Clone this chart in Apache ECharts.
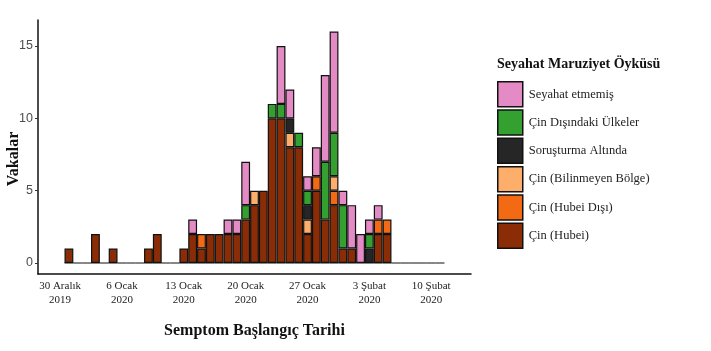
<!DOCTYPE html>
<html>
<head>
<meta charset="utf-8">
<script src="https://cdn.jsdelivr.net/npm/echarts@6/dist/echarts.min.js"></script>
<style>
  html, body { margin: 0; padding: 0; background: #fff; }
  #chart { width: 711px; height: 351px; }
</style>
</head>
<body>
<div id="chart"></div>
<script>
// one bin per day, from 28 Aralık 2019 to 14 Şubat 2020
const startDate = new Date(2019, 11, 28);
const dayCount = 49;

const monthNames = ['Ocak', 'Şubat', 'Mart', 'Nisan', 'Mayıs', 'Haziran', 'Temmuz', 'Ağustos', 'Eylül', 'Ekim', 'Kasım', 'Aralık'];
const tickDates = ['2019-12-30', '2020-01-06', '2020-01-13', '2020-01-20', '2020-01-27', '2020-02-03', '2020-02-10'];

// case counts per day (index 0 = 28 Aralık)
const hubei = [
    0, 0, 0, 1, 0, 0, 2,
    0, 1, 0, 0, 0, 1, 2,
    0, 0, 1, 2, 1, 2, 2,
    2, 2, 3, 4, 5, 10, 10,
    8, 8, 2, 5, 3, 4, 1,
    1, 0, 0, 2, 2, 0, 0,
    0, 0, 0, 0, 0, 0, 0
];
const hubeiDisi = [
    0, 0, 0, 0, 0, 0, 0,
    0, 0, 0, 0, 0, 0, 0,
    0, 0, 0, 0, 1, 0, 0,
    0, 0, 0, 0, 0, 0, 0,
    0, 0, 0, 1, 0, 1, 0,
    0, 0, 0, 1, 1, 0, 0,
    0, 0, 0, 0, 0, 0, 0
];
const bilinmeyen = [
    0, 0, 0, 0, 0, 0, 0,
    0, 0, 0, 0, 0, 0, 0,
    0, 0, 0, 0, 0, 0, 0,
    0, 0, 0, 1, 0, 0, 0,
    1, 0, 1, 0, 0, 1, 0,
    0, 0, 0, 0, 0, 0, 0,
    0, 0, 0, 0, 0, 0, 0
];
const sorusturma = [
    0, 0, 0, 0, 0, 0, 0,
    0, 0, 0, 0, 0, 0, 0,
    0, 0, 0, 0, 0, 0, 0,
    0, 0, 0, 0, 0, 0, 0,
    1, 0, 1, 0, 0, 0, 0,
    0, 0, 1, 0, 0, 0, 0,
    0, 0, 0, 0, 0, 0, 0
];
const cinDisi = [
    0, 0, 0, 0, 0, 0, 0,
    0, 0, 0, 0, 0, 0, 0,
    0, 0, 0, 0, 0, 0, 0,
    0, 0, 1, 0, 0, 1, 1,
    0, 1, 1, 0, 4, 3, 3,
    0, 0, 1, 0, 0, 0, 0,
    0, 0, 0, 0, 0, 0, 0
];
const seyahatYok = [
    0, 0, 0, 0, 0, 0, 0,
    0, 0, 0, 0, 0, 0, 0,
    0, 0, 0, 1, 0, 0, 0,
    1, 1, 3, 0, 0, 0, 4,
    2, 0, 1, 2, 6, 7, 1,
    3, 2, 1, 1, 0, 0, 0,
    0, 0, 0, 0, 0, 0, 0
];
// histogram bins that are drawn (empty ones show as a flat line)
const binFirst = 3;
const binLast = 45;

const seriesDefs = [
    {name: 'Çin (Hubei)', data: hubei, color: '#8A2D06'},
    {name: 'Çin (Hubei Dışı)', data: hubeiDisi, color: '#F26A14'},
    {name: 'Çin (Bilinmeyen Bölge)', data: bilinmeyen, color: '#FDAE6B'},
    {name: 'Soruşturma Altında', data: sorusturma, color: '#262626'},
    {name: 'Çin Dışındaki Ülkeler', data: cinDisi, color: '#34A02F'},
    {name: 'Seyahat etmemiş', data: seyahatYok, color: '#E48BC6'}
];

function fmt(d) {
    let m = d.getMonth() + 1, day = d.getDate();
    return d.getFullYear() + '-' + (m < 10 ? '0' + m : m) + '-' + (day < 10 ? '0' + day : day);
}

const categories = function () {
    let list = [];
    for (let i = 0; i < dayCount; i++) {
        let d = new Date(startDate.getFullYear(), startDate.getMonth(), startDate.getDate() + i);
        list.push(fmt(d));
    }
    return list;
}();

function isTick(index) {
    return tickDates.indexOf(categories[index]) >= 0;
}

const serif = '"Liberation Serif", "DejaVu Serif", serif';

let series = seriesDefs.map(function (s) {
    return {
        name: s.name,
        type: 'bar',
        stack: 'all',
        xAxisIndex: 0,
        yAxisIndex: 0,
        barCategoryGap: '0%',
        itemStyle: {color: s.color, borderColor: '#111', borderWidth: 1.2},
        emphasis: {disabled: true},
        data: s.data.map(function (v) { return v === 0 ? '-' : v; })
    };
});
series.unshift({
    name: 'base',
    type: 'bar',
    stack: 'all',
    xAxisIndex: 0,
    yAxisIndex: 0,
    barCategoryGap: '0%',
    silent: true,
    itemStyle: {color: '#fff', borderColor: '#111', borderWidth: 1.2},
    data: categories.map(function (c, i) { return (i >= binFirst && i <= binLast) ? 0 : '-'; })
});

let chart = echarts.init(document.getElementById('chart'));
chart.setOption({
    animation: false,
    backgroundColor: '#fff',
    title: {
        text: 'Seyahat Maruziyet Öyküsü',
        left: 497,
        top: 57,
        padding: 0,
        textStyle: {fontFamily: serif, fontSize: 14, fontWeight: 'bold', color: '#111'}
    },
    legend: {
        orient: 'vertical',
        left: 497,
        top: 81,
        padding: 0,
        itemWidth: 25,
        itemHeight: 25,
        itemGap: 1.8,
        icon: 'rect',
        itemStyle: {borderColor: '#111', borderWidth: 1.5},
        textStyle: {fontFamily: serif, fontSize: 12.5, color: '#222', padding: [0, 0, 0, 1]},
        data: ['Seyahat etmemiş', 'Çin Dışındaki Ülkeler', 'Soruşturma Altında',
            'Çin (Bilinmeyen Bölge)', 'Çin (Hubei Dışı)', 'Çin (Hubei)']
    },
    grid: [
        {left: 38, right: 240, top: 20, bottom: 88, outerBoundsMode: 'none'},
        {left: 38, right: 240, top: 20, bottom: 77, outerBoundsMode: 'none'}
    ],
    xAxis: [
        {
            type: 'category',
            gridIndex: 0,
            data: categories,
            show: false
        },
        {
            type: 'category',
            gridIndex: 1,
            data: categories,
            name: 'Semptom Başlangıç Tarihi',
            nameLocation: 'middle',
            nameGap: 49,
            nameTextStyle: {fontFamily: serif, fontSize: 16, fontWeight: 'bold', color: '#111'},
            axisLine: {lineStyle: {color: '#111', width: 1.5}},
            axisTick: {
                alignWithLabel: true,
                length: 3,
                lineStyle: {color: '#333'},
                interval: function (index) { return isTick(index); }
            },
            axisLabel: {
                interval: function (index) { return isTick(index); },
                margin: 5,
                fontFamily: serif,
                fontSize: 11,
                lineHeight: 14,
                color: '#222',
                formatter: function (value) {
                    let p = value.split('-');
                    return Number(p[2]) + ' ' + monthNames[Number(p[1]) - 1] + '\n' + p[0];
                }
            }
        }
    ],
    yAxis: [
        {
            type: 'value',
            gridIndex: 0,
            min: 0,
            max: 16.8,
            interval: 5,
            axisLine: {show: false},
            axisTick: {show: true, length: 3, lineStyle: {color: '#333'}},
            splitLine: {show: false},
            axisLabel: {
                margin: 5,
                fontFamily: '"Liberation Sans", Arial, sans-serif',
                fontSize: 12.5,
                color: '#4d4d4d',
                showMaxLabel: false,
                formatter: function (v) { return v % 5 === 0 ? String(v) : ''; }
            }
        },
        {
            type: 'value',
            gridIndex: 1,
            min: 0,
            max: 1,
            name: 'Vakalar',
            nameLocation: 'middle',
            nameGap: 16,
            nameTextStyle: {fontFamily: serif, fontSize: 16, fontWeight: 'bold', color: '#111', padding: [0, 24, 0, 0]},
            axisLine: {show: true, lineStyle: {color: '#111', width: 1.5}},
            axisTick: {show: false},
            axisLabel: {show: false},
            splitLine: {show: false}
        }
    ],
    series: series
});
</script>
</body>
</html>
